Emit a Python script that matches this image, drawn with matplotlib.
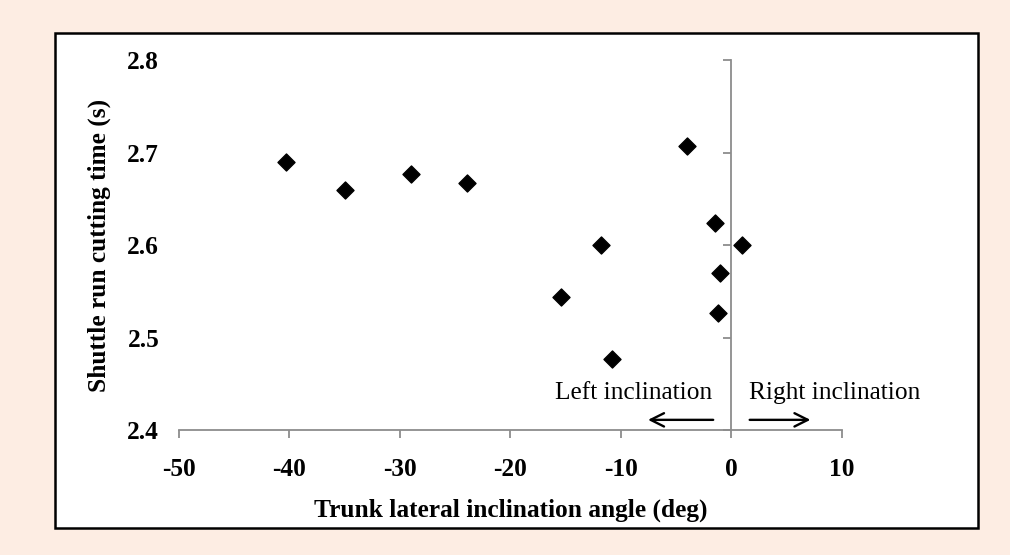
import matplotlib.pyplot as plt
from matplotlib.patches import Rectangle

# data
angle = [-40.3, -35.0, -29.0, -23.9, -15.4, -11.8, -10.8, -4.0, -1.5, -1.0, -1.2, 1.0]
time_s = [2.690, 2.660, 2.677, 2.667, 2.544, 2.600, 2.477, 2.707, 2.624, 2.570, 2.527, 2.600]

xticks = [-50, -40, -30, -20, -10, 0, 10]
yticks = [2.4, 2.5, 2.6, 2.7, 2.8]
ytick_labels = ['2.4', '2.5', '2.6', '2.7', '2.8']

plt.rcParams['font.family'] = ['Liberation Serif', 'DejaVu Serif']
plt.rcParams['axes.unicode_minus'] = False

fig = plt.figure(figsize=(10.1, 5.55), dpi=100)
fig.patch.set_facecolor('#fdede3')
# white inner panel with black frame
frame = Rectangle((0.0545, 0.0486), 0.914, 0.892, transform=fig.transFigure,
                  facecolor='white', edgecolor='black', linewidth=1.8, zorder=-5)
fig.patches.append(frame)

ax = fig.add_axes([0.1772, 0.2252, 0.6564, 0.666])
ax.set_facecolor('none')
ax.scatter(angle, time_s, marker='D', s=75, color='black', zorder=3)

ax.set_xlim(-50, 10)
ax.set_ylim(2.4, 2.8)
ax.set_xticks(xticks)
ax.set_yticks(yticks)
ax.set_yticklabels(ytick_labels)

ax.spines['top'].set_visible(False)
ax.spines['right'].set_visible(False)
ax.spines['left'].set_position(('data', 0))
for s in ['left', 'bottom']:
    ax.spines[s].set_color('#8c8c8c')
    ax.spines[s].set_linewidth(1.3)

ax.tick_params(axis='both', colors='#8c8c8c', length=6, width=1.3, direction='out')
ax.tick_params(axis='x', labelcolor='black', labelsize=18.3, pad=14)
ax.tick_params(axis='y', labelcolor='black', labelsize=18.3, pad=406)
for lab in ax.get_xticklabels() + ax.get_yticklabels():
    lab.set_fontweight('bold')

ax.set_xlabel('Trunk lateral inclination angle (deg)', fontsize=18.3, fontweight='bold', labelpad=13)
ax.set_ylabel('Shuttle run cutting time (s)', fontsize=18.3, fontweight='bold')
ax.yaxis.set_label_coords(-0.103, 0.5)

ax.text(-8.9, 2.440, 'Left inclination', fontsize=18.3, ha='center', va='center')
ax.text(9.3, 2.440, 'Right inclination', fontsize=18.3, ha='center', va='center')
ax.annotate('', xy=(-7.8, 2.411), xytext=(-1.4, 2.411),
            arrowprops=dict(arrowstyle='->', color='black', lw=1.7, mutation_scale=24))
ax.annotate('', xy=(7.4, 2.411), xytext=(1.4, 2.411),
            arrowprops=dict(arrowstyle='->', color='black', lw=1.7, mutation_scale=24))

fig.savefig('out.png', dpi=100, facecolor=fig.get_facecolor())
